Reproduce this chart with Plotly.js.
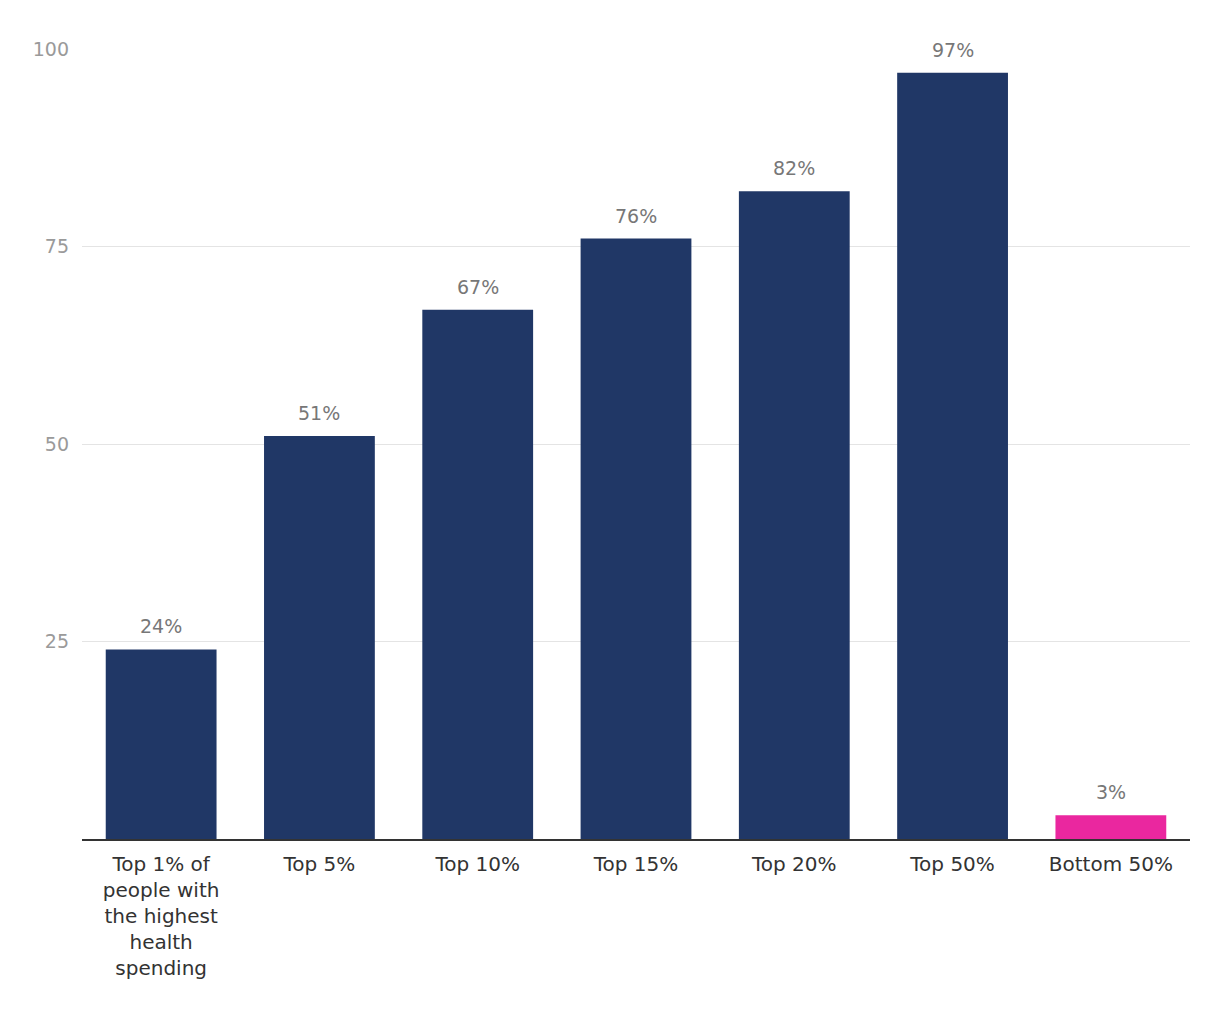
<!DOCTYPE html>
<html>
<head>
<meta charset="utf-8">
<script src="https://cdn.plot.ly/plotly-3.0.1.min.js"></script>
<style>html,body{margin:0;padding:0;background:#fff;}#chart{width:1220px;height:1020px;}</style>
</head>
<body>
<div id="chart"></div>
<script>
const categories = ["Top 1% of<br>people with<br>the highest<br>health<br>spending", "Top 5%", "Top 10%", "Top 15%", "Top 20%", "Top 50%", "Bottom 50%"];
const values = [24, 51, 67, 76, 82, 97, 3];
const labels = ["24%", "51%", "67%", "76%", "82%", "97%", "3%"];
const barColors = ["#203766", "#203766", "#203766", "#203766", "#203766", "#203766", "#ea279f"];
const tickValues = [25, 50, 75, 100];

const FONT = '"DejaVu Sans", sans-serif';

const trace = {
  type: 'bar',
  x: categories,
  y: values,
  marker: {color: barColors},
  hoverinfo: 'none'
};

const annotations = categories.map((c, i) => ({
  x: c, y: values[i], xref: 'x', yref: 'y',
  text: labels[i], showarrow: false,
  yanchor: 'bottom', yshift: 10,
  bgcolor: '#ffffff', borderpad: 1,
  font: {family: FONT, size: 19, color: '#777777'}
}));

const layout = {
  width: 1220, height: 1020,
  margin: {l: 82, r: 30, t: 49, b: 181},
  paper_bgcolor: '#ffffff', plot_bgcolor: '#ffffff',
  showlegend: false,
  bargap: 0.3,
  font: {family: FONT},
  xaxis: {
    showgrid: false, zeroline: false,
    showline: true, linecolor: '#333333', linewidth: 2,
    ticks: '', ticklabelstandoff: 6,
    tickfont: {family: FONT, size: 20, color: '#333333'},
    fixedrange: true
  },
  yaxis: {
    range: [0, 100],
    tickvals: tickValues,
    ticktext: tickValues.map(String),
    showgrid: true, gridcolor: '#e4e4e4', gridwidth: 1,
    zeroline: false, showline: false, ticks: '',
    ticklabelstandoff: 12,
    tickfont: {family: FONT, size: 19, color: '#9a9a9a'},
    fixedrange: true
  },
  annotations: annotations
};

Plotly.newPlot('chart', [trace], layout, {displayModeBar: false, staticPlot: true});
</script>
</body>
</html>
